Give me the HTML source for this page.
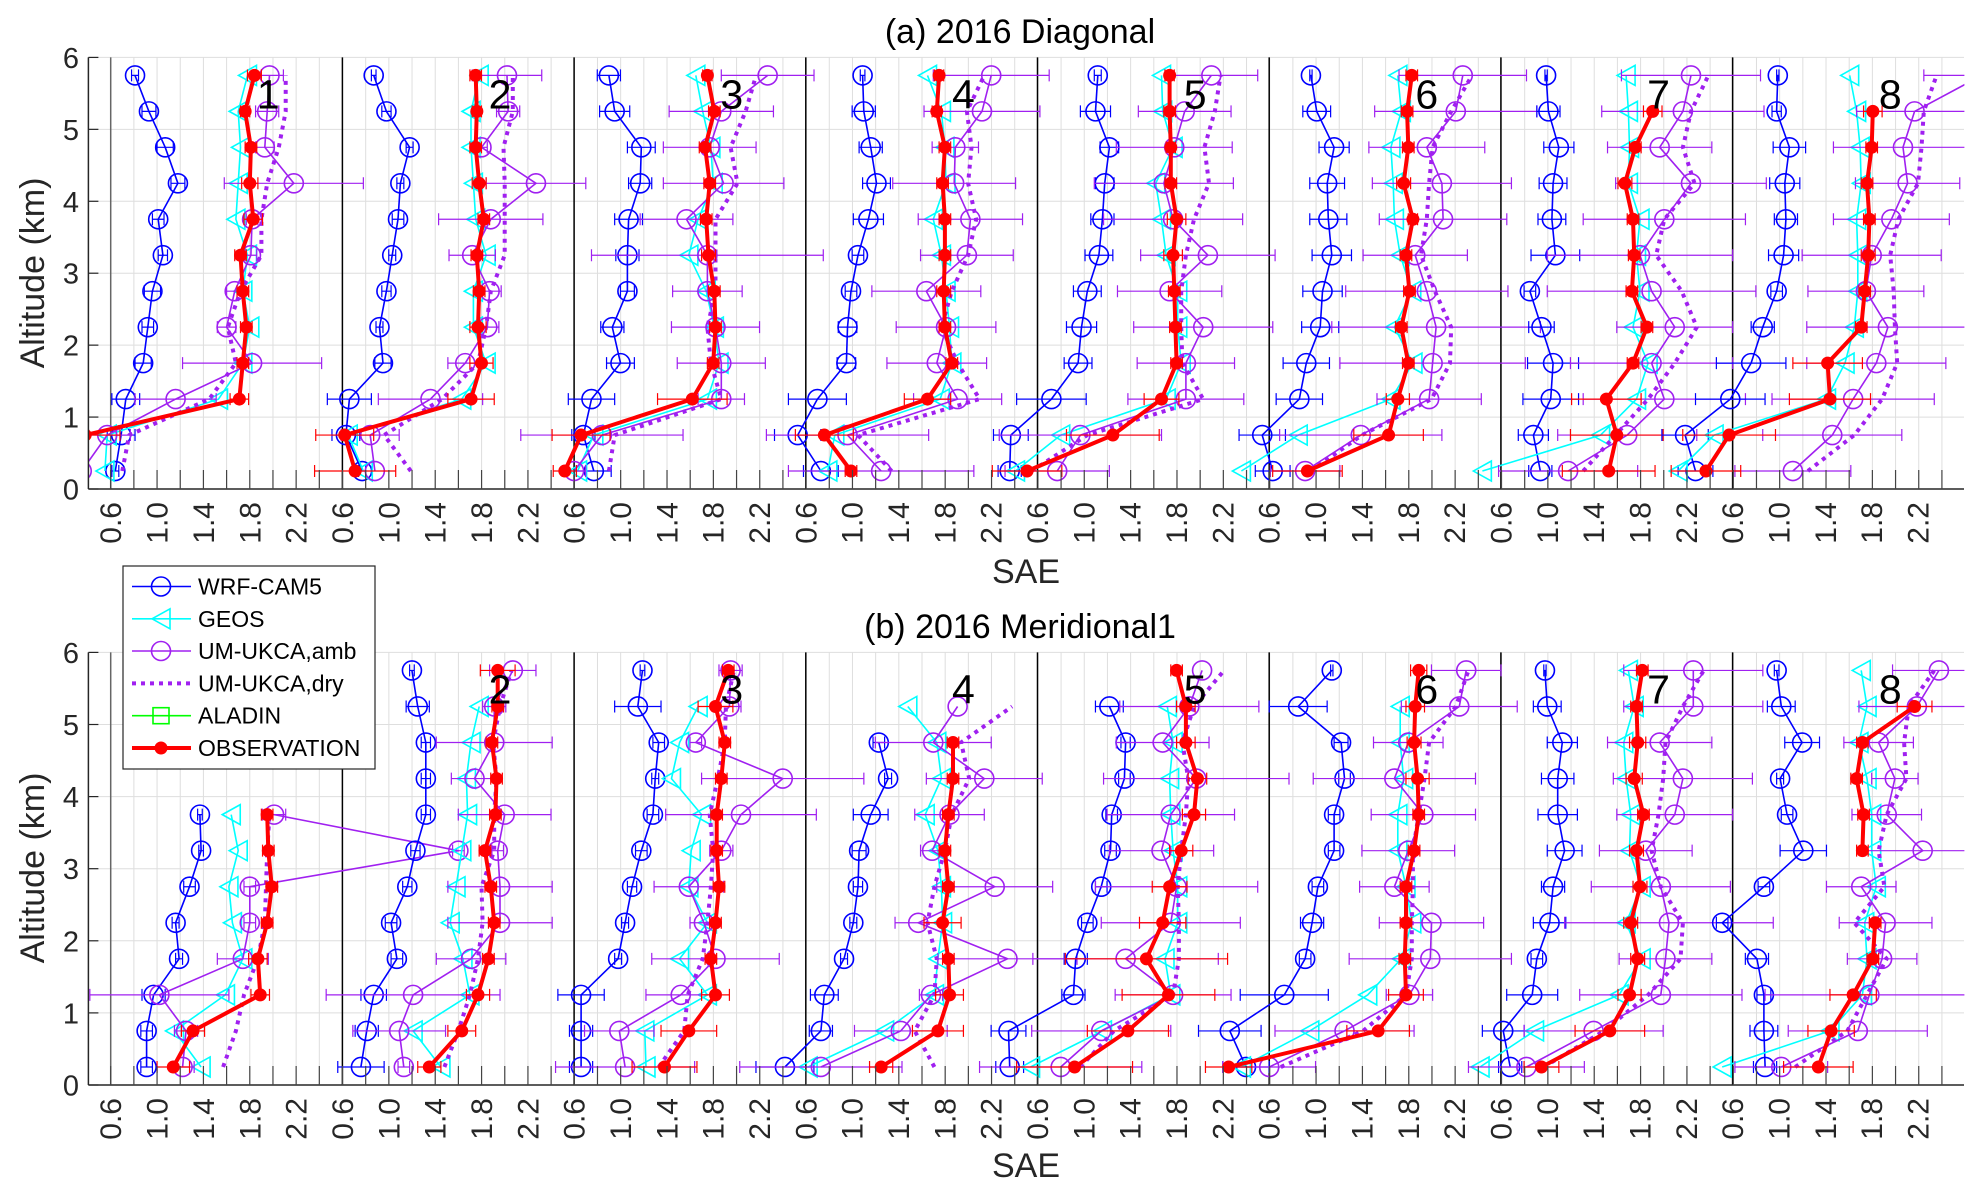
<!DOCTYPE html>
<html><head><meta charset="utf-8"><title>SAE profiles 2016</title>
<style>
html,body{margin:0;padding:0;background:#fff;}
svg{display:block;font-family:"Liberation Sans",Arial,sans-serif;}
</style></head>
<body>
<svg id="chart" width="1981" height="1198" viewBox="0 0 1981 1198" xmlns="http://www.w3.org/2000/svg">
<defs>
<clipPath id="clipTop"><rect x="88.4" y="57" width="1876" height="432"/></clipPath>
<clipPath id="clipBot"><rect x="88.4" y="652" width="1876" height="433"/></clipPath>
</defs>
<g id="gridTop"></g>
<g id="gridBot"></g>
<g id="plotTop" clip-path="url(#clipTop)"></g>
<g id="plotBot" clip-path="url(#clipBot)"></g>
<g id="axesTop"></g>
<g id="axesBot"></g>
<text x="1020" y="43" font-size="34" text-anchor="middle" fill="#000">(a) 2016 Diagonal</text>
<text x="1020" y="638" font-size="34" text-anchor="middle" fill="#000">(b) 2016 Meridional1</text>
<text x="1026" y="583" font-size="34" text-anchor="middle" fill="#262626">SAE</text>
<text x="1026" y="1177" font-size="34" text-anchor="middle" fill="#262626">SAE</text>
<text transform="translate(44,273) rotate(-90)" font-size="34" text-anchor="middle" fill="#262626">Altitude (km)</text>
<text transform="translate(44,868) rotate(-90)" font-size="34" text-anchor="middle" fill="#262626">Altitude (km)</text>
<g id="legend">
<rect x="123" y="566" width="252" height="203" fill="#fff" stroke="#262626" stroke-width="1.2"/>
<g><line x1="132" y1="586.5" x2="191" y2="586.5" stroke="#0000ff" stroke-width="1.6"/><circle cx="161" cy="586.5" r="9.5" fill="none" stroke="#0000ff" stroke-width="1.6"/><text x="198" y="594.5" font-size="23" fill="#000">WRF-CAM5</text></g>
<g><line x1="132" y1="618.8" x2="191" y2="618.8" stroke="#00ffff" stroke-width="1.6"/><polygon points="152,618.8 170,608.8 170,628.8" fill="none" stroke="#00ffff" stroke-width="1.6"/><text x="198" y="626.8" font-size="23" fill="#000">GEOS</text></g>
<g><line x1="132" y1="651" x2="191" y2="651" stroke="#a020f0" stroke-width="1.6"/><circle cx="161" cy="651" r="9.5" fill="none" stroke="#a020f0" stroke-width="1.6"/><text x="198" y="659" font-size="23" fill="#000">UM-UKCA,amb</text></g>
<g><line x1="132" y1="683.4" x2="191" y2="683.4" stroke="#a020f0" stroke-width="4" stroke-dasharray="4 5"/><text x="198" y="691.4" font-size="23" fill="#000">UM-UKCA,dry</text></g>
<g><line x1="132" y1="715.7" x2="191" y2="715.7" stroke="#00ff00" stroke-width="1.6"/><rect x="153" y="707.7" width="16" height="16" fill="none" stroke="#00ff00" stroke-width="1.6"/><text x="198" y="723.7" font-size="23" fill="#000">ALADIN</text></g>
<g><line x1="132" y1="748" x2="191" y2="748" stroke="#ff0000" stroke-width="4"/><circle cx="161" cy="748" r="6.5" fill="#ff0000"/><text x="198" y="756" font-size="23" fill="#000">OBSERVATION</text></g>
</g>
</svg>
<script>
const levels=[0.25,0.75,1.25,1.75,2.25,2.75,3.25,3.75,4.25,4.75,5.25,5.75];
const yTicks=[0,1,2,3,4,5,6];
const xTickLabels=["0.6","1.0","1.4","1.8","2.2"];
const xTickValues=[0.6,1.0,1.4,1.8,2.2];
const panelNames=["1","2","3","4","5","6","7","8"];
const N=null;
// ---- (a) Diagonal ----
const topWRF=[
[0.64,0.69,0.73,0.88,0.92,0.96,1.05,1.01,1.18,1.07,0.93,0.81],
[0.77,0.63,0.66,0.95,0.92,0.98,1.03,1.08,1.10,1.18,0.98,0.87],
[0.77,0.68,0.75,1.00,0.93,1.06,1.06,1.07,1.17,1.18,0.95,0.90],
[0.73,0.53,0.70,0.95,0.96,0.99,1.05,1.14,1.21,1.16,1.10,1.09],
[0.36,0.37,0.72,0.95,0.98,1.03,1.13,1.16,1.18,1.22,1.10,1.12],
[0.63,0.54,0.86,0.92,1.04,1.06,1.14,1.11,1.10,1.16,1.01,0.96],
[0.94,0.88,1.03,1.05,0.95,0.85,1.07,1.04,1.05,1.10,1.01,0.99],
[0.28,0.19,0.58,0.76,0.86,0.98,1.04,1.06,1.05,1.09,0.98,0.99]];
const topGEOS=[
[0.55,0.57,1.53,1.74,1.80,1.74,1.78,1.68,1.70,1.72,1.70,1.78],
[0.78,0.65,1.63,1.84,1.73,1.73,1.84,1.75,1.73,1.71,1.71,1.78],
[0.63,0.77,1.75,1.85,1.81,1.74,1.59,1.67,1.80,1.78,1.71,1.65],
[0.79,0.85,1.76,1.86,1.84,1.81,1.77,1.70,1.81,1.80,1.77,1.65],
[0.41,0.80,1.71,1.84,1.81,1.81,1.71,1.67,1.62,1.77,1.68,1.67],
[0.36,0.85,1.65,1.84,1.68,1.83,1.73,1.68,1.67,1.65,1.74,1.71],
[0.44,1.46,1.77,1.87,1.74,1.80,1.77,1.80,1.70,1.71,1.70,1.68],
[0.13,0.44,1.41,1.57,1.65,1.68,1.68,1.67,1.71,1.70,1.67,1.61]];
const topAMB=[
[0.35,0.57,1.16,1.82,1.60,1.67,1.81,1.82,2.18,1.93,1.95,1.97],
[0.88,0.84,1.36,1.66,1.85,1.87,1.72,1.88,2.27,1.80,2.03,2.02],
[0.60,0.84,1.87,1.87,1.82,1.75,1.75,1.57,1.89,1.77,1.87,2.27],
[1.25,0.96,1.91,1.73,1.81,1.64,1.99,2.02,1.88,1.89,2.12,2.20],
[0.77,0.97,1.88,1.88,2.03,1.74,2.07,1.77,1.69,1.78,1.87,2.10],
[0.91,1.39,1.98,2.01,2.04,1.96,1.86,2.10,2.09,1.96,2.21,2.27],
[1.18,1.69,2.01,1.90,2.10,1.90,1.80,2.01,2.24,1.97,2.17,2.24],
[1.12,1.46,1.64,1.84,1.94,1.75,1.80,1.97,2.11,2.07,2.17,2.75]];
const topDRY=[
[0.70,0.76,1.45,1.68,1.61,1.72,1.90,1.90,1.95,2.05,2.11,2.11],
[1.19,0.96,1.46,1.77,1.84,1.88,2.00,2.00,2.00,1.99,2.07,2.07],
[0.90,0.95,1.87,1.78,1.75,1.82,1.82,1.82,2.01,1.95,2.08,2.17],
[1.34,1.05,2.10,1.91,1.77,1.86,2.00,2.07,2.00,2.03,1.99,2.14],
[0.55,1.03,2.03,1.85,1.84,1.84,1.88,1.95,2.08,2.04,2.13,2.18],
[0.96,1.40,2.00,2.16,2.17,2.03,1.91,1.96,1.98,2.01,2.17,2.35],
[1.31,1.59,1.87,2.10,2.29,2.16,1.94,2.01,2.27,2.17,2.24,2.39],
[1.25,1.65,1.89,2.02,2.00,1.99,1.96,2.03,2.20,2.23,2.25,2.36]];
const topOBS=[
[0.30,0.38,1.71,1.74,1.77,1.74,1.72,1.83,1.80,1.81,1.76,1.84],
[0.71,0.62,1.71,1.80,1.77,1.78,1.76,1.82,1.78,1.75,1.76,1.75],
[0.52,0.66,1.62,1.80,1.82,1.81,1.76,1.74,1.77,1.73,1.81,1.75],
[0.99,0.76,1.65,1.86,1.80,1.79,1.80,1.80,1.78,1.80,1.73,1.75],
[0.51,1.25,1.67,1.80,1.79,1.78,1.77,1.80,1.75,1.75,1.74,1.74],
[0.93,1.63,1.71,1.80,1.74,1.81,1.78,1.84,1.76,1.80,1.79,1.83],
[1.53,1.60,1.51,1.74,1.86,1.73,1.75,1.74,1.67,1.76,1.91,N],
[0.37,0.57,1.44,1.42,1.71,1.74,1.77,1.78,1.76,1.80,1.81,N]];
const topWRFerr=[
[0.03,0.12,0.12,0.07,0.05,0.07,0.04,0.05,0.06,0.07,0.06,0.03],
[0.03,0.12,0.19,0.07,0.03,0.04,0.03,0.05,0.03,0.03,0.04,0.02],
[0.15,0.10,0.2,0.12,0.1,0.06,0.1,0.12,0.1,0.12,0.13,0.1],
[0.15,0.2,0.25,0.08,0.08,0.05,0.05,0.13,0.12,0.1,0.1,0.02],
[0.1,0.15,0.3,0.12,0.13,0.12,0.12,0.1,0.08,0.08,0.13,0.03],
[0.15,0.2,0.2,0.2,0.16,0.17,0.17,0.16,0.15,0.13,0.12,0.01],
[0.1,0.13,0.24,0.22,0.11,0.05,0.21,0.12,0.12,0.13,0.1,0.01],
[0.15,0.2,0.3,0.3,0.1,0.05,0.13,0.1,0.13,0.14,0.04,0.01]];
const topAMBerr=[
[0,0.2,0.35,0.6,0.08,0.07,0.05,0.05,0.6,0.08,0.1,0.12],
[0,0.25,0.45,0.15,0.1,0.1,0.2,0.45,0.43,0.05,0.1,0.3],
[0.1,0.7,0.2,0.38,0.38,0.3,1.0,0.4,0.52,0.4,0.45,0.4],
[0.8,0.7,0.38,0.43,0.43,0.47,0.4,0.45,0.53,0.2,0.5,0.5],
[0.45,0.7,0.5,0.42,0.6,0.45,0.58,0.6,0.6,0.5,0.4,0.4],
[0.3,0.7,0.45,0.8,0.9,0.7,0.45,0.55,0.6,0.5,0.7,0.55],
[0.6,0.6,0.7,0.7,0.5,0.9,0.8,0.7,0.65,0.45,0.7,0.6],
[0.5,0.6,0.7,0.6,0.7,0.5,0.6,0.5,0.45,0.6,0.5,0.5]];
const topOBSerr=[
[0.05,0.3,0.08,0.05,0.05,0.05,0.05,0.08,0.07,0.05,0.04,0.06],
[0.35,0.25,0.2,0.1,0.07,0.05,0.05,0.05,0.06,0.05,0.04,0.05],
[0.1,0.25,0.3,0.05,0.05,0.05,0.06,0.05,0.05,0.05,0.05,0.04],
[0.05,0.25,0.2,0.05,0.05,0.06,0.05,0.05,0.05,0.05,0.04,0.04],
[0.3,0.4,0.15,0.05,0.05,0.05,0.08,0.08,0.05,0.04,0.05,0.04],
[0.3,0.3,0.1,0.05,0.05,0.05,0.05,0.04,0.06,0.05,0.05,0.05],
[0.4,0.4,0.3,0.05,0.05,0.05,0.05,0.05,0.06,0.05,0.08,0],
[0.3,0.4,0.35,0.3,0.05,0.05,0.06,0.05,0.05,0.05,0.08,0]];
// ---- (b) Meridional1 ----
const botWRF=[
[0.91,0.91,0.97,1.19,1.16,1.28,1.38,1.37,N,N,N,N],
[0.76,0.81,0.87,1.07,1.02,1.16,1.23,1.32,1.32,1.32,1.25,1.20],
[0.66,0.66,0.66,0.98,1.04,1.10,1.18,1.28,1.30,1.33,1.15,1.19],
[0.42,0.73,0.76,0.93,1.01,1.05,1.06,1.16,1.31,1.23,N,N],
[0.36,0.35,0.91,0.93,1.03,1.15,1.23,1.24,1.35,1.36,1.22,N],
[0.40,0.26,0.73,0.91,0.97,1.02,1.16,1.16,1.25,1.22,0.85,1.14],
[0.68,0.62,0.87,0.91,1.02,1.05,1.15,1.09,1.09,1.13,1.00,0.98],
[0.88,0.87,0.87,0.81,0.51,0.87,1.21,1.07,1.01,1.20,1.02,0.98]];
const botGEOS=[
[1.38,1.15,1.59,1.74,1.65,1.62,1.70,1.64,N,N,N,N],
[1.45,1.21,1.70,1.64,1.53,1.58,1.63,1.68,1.67,1.71,1.78,N],
[1.22,1.21,1.75,1.51,1.75,1.59,1.61,1.70,1.44,1.51,1.67,N],
[0.62,1.28,1.71,1.74,1.78,1.77,1.74,1.63,1.77,1.73,1.48,N],
[0.54,1.16,1.75,1.70,1.81,1.81,1.77,1.75,1.74,1.77,1.72,N],
[0.36,0.95,1.45,1.74,1.83,1.78,1.71,1.71,1.76,1.73,1.73,N],
[0.42,0.89,1.62,1.81,1.68,1.81,1.71,1.72,1.68,1.66,1.75,1.70],
[0.51,1.44,1.72,1.76,1.74,1.84,1.80,1.80,1.76,1.69,1.76,1.71]];
const botAMB=[
[1.22,1.25,1.02,1.74,1.80,1.80,3.60,2.01,N,N,N,N],
[1.13,1.09,1.21,1.71,1.96,1.96,1.94,2.00,1.74,1.91,1.91,2.07],
[1.04,0.99,1.52,1.82,1.72,1.59,1.87,2.04,2.40,1.65,1.94,1.95],
[0.73,1.42,1.68,2.34,1.57,2.23,1.69,1.84,2.14,1.70,1.91,N],
[0.80,1.15,1.77,1.36,1.75,1.80,1.67,1.75,1.97,1.68,1.91,2.02],
[0.60,1.25,1.81,1.99,2.00,1.68,1.80,1.93,1.68,1.80,2.24,2.30],
[0.82,1.40,1.98,2.02,2.05,1.98,1.85,2.10,2.17,1.97,2.26,2.26],
[1.02,1.68,1.78,1.89,1.92,1.71,2.24,1.93,2.00,1.86,2.19,2.38]];
const botDRY=[
[1.57,1.68,1.75,1.87,1.93,1.94,1.95,1.97,N,N,N,N],
[1.48,1.60,1.70,1.77,1.81,1.80,1.91,1.91,1.93,1.90,1.96,2.06],
[1.33,1.55,1.58,1.71,1.75,1.78,1.80,1.77,1.84,1.90,1.91,1.98],
[1.71,1.54,1.71,1.73,1.65,1.71,1.80,1.86,2.01,1.94,2.38,N],
[0.97,1.26,1.77,1.82,1.82,1.81,1.84,1.88,1.90,1.85,1.95,2.21],
[0.70,1.41,1.78,1.83,1.83,1.84,1.84,1.89,1.94,1.98,2.21,2.32],
[0.97,1.49,1.87,2.15,2.17,1.98,1.90,1.96,2.00,2.02,2.17,2.35],
[1.14,1.59,1.76,1.93,1.65,1.91,1.86,1.93,2.10,2.08,2.12,2.34]];
const botOBS=[
[1.14,1.31,1.89,1.87,1.95,1.99,1.96,1.95,N,N,N,N],
[1.35,1.63,1.77,1.86,1.91,1.88,1.83,1.92,1.93,1.89,1.94,1.94],
[1.38,1.59,1.82,1.78,1.82,1.85,1.83,1.83,1.87,1.90,1.82,1.93],
[1.25,1.74,1.84,1.83,1.78,1.83,1.80,1.83,1.87,1.87,N,N],
[0.92,1.38,1.73,1.54,1.68,1.74,1.84,1.95,1.98,1.88,1.88,1.80],
[0.25,1.54,1.78,1.77,1.78,1.78,1.85,1.89,1.88,1.85,1.86,1.89],
[0.95,1.54,1.71,1.78,1.72,1.80,1.77,1.83,1.75,1.78,1.77,1.82],
[1.34,1.45,1.64,1.81,1.83,N,1.72,1.73,1.67,1.72,2.17,N]];
const botWRFerr=[
[0.05,0.05,0.1,0.03,0.03,0.05,0.02,0.02,0,0,0,0],
[0.2,0.1,0.11,0.05,0.05,0.04,0.04,0.04,0.04,0.04,0.1,0.02],
[0.1,0.1,0.2,0.03,0.03,0.04,0.05,0.05,0.03,0.05,0.2,0.02],
[0.25,0.1,0.12,0.03,0.03,0.04,0.06,0.15,0.03,0.05,0,0],
[0.12,0.15,0.1,0.1,0.05,0.05,0.05,0.05,0.05,0.04,0.12,0],
[0.2,0.27,0.38,0.05,0.1,0.05,0.05,0.05,0.05,0.06,0.25,0.01],
[0.1,0.18,0.22,0.05,0.14,0.1,0.15,0.17,0.14,0.13,0.12,0.01],
[0.1,0.12,0.06,0.1,0.05,0.05,0.2,0.05,0.03,0.15,0.12,0.02]];
const botAMBerr=[
[0.1,0.1,0.6,0.22,0.05,0.05,0.05,0.1,0,0,0,0],
[0.05,0.4,0.75,0.3,0.45,0.45,0.05,0.4,0.2,0.5,0.1,0.2],
[0.6,0.3,0.3,0.55,0.12,0.3,0.1,0.65,0.7,0.05,0.1,0.1],
[0.7,0.4,0.1,0.6,0.2,0.5,0.1,0.3,0.5,0.5,0,0],
[0.7,0.6,0.5,0.8,0.6,0.7,0.45,0.55,0.8,0.4,0.6,0],
[0.4,0.6,0.2,0.7,0.45,0.3,0.4,0.45,0.7,0.3,0.5,0.3],
[0.5,0.6,0.7,0.4,0.9,0.6,0.4,0.5,0.6,0.45,0.6,0.6],
[0.4,0.6,0.9,0.3,0.4,0.3,0.5,0.3,0.2,0.3,0.5,0.4]];
const botOBSerr=[
[0.14,0.1,0.08,0.08,0.05,0.05,0.05,0.05,0,0,0,0],
[0.1,0.12,0.1,0.05,0.05,0.05,0.05,0.05,0.05,0.05,0.05,0.15],
[0.28,0.24,0.12,0.05,0.05,0.05,0.05,0.05,0.05,0.05,0.15,0.05],
[0.1,0.22,0.12,0.05,0.16,0.05,0.05,0.05,0.05,0.05,0,0],
[0.5,0.35,0.4,0.7,0.2,0.15,0.1,0.1,0.08,0.08,0.08,0.05],
[0.2,0.27,0.15,0.05,0.05,0.05,0.05,0.05,0.1,0.06,0.08,0.07],
[0.15,0.3,0.1,0.06,0.06,0.06,0.06,0.05,0.07,0.07,0.05,0.05],
[0.3,0.2,0.2,0.05,0.05,0,0.05,0.05,0.05,0.05,0.15,0]];

const NS="http://www.w3.org/2000/svg";
const X0=110.7, PW=231.7, SX=115.9, XL=88.4, XR=1964;
function xPos(p,v){return X0+p*PW+(v-0.6)*SX;}
const topAxis={y0:489,k:71.93,clip:"plotTop",grid:"gridTop",axes:"axesTop",tag:"top"};
const botAxis={y0:1085,k:72.1,clip:"plotBot",grid:"gridBot",axes:"axesBot",tag:"bottom"};
function yPos(ax,h){return ax.y0-h*ax.k;}
function mk(tag,attrs,parent){const e=document.createElementNS(NS,tag);for(const k in attrs)e.setAttribute(k,attrs[k]);parent.appendChild(e);return e;}

function drawFrame(ax,showNumbers,bottomSkipFirst){
  const g=document.getElementById(ax.grid), a=document.getElementById(ax.axes);
  // vertical minor grid every 0.2
  for(let i=0;;i++){const x=X0+i*0.2*SX-0.2*SX; if(x>XR+0.5)break; if(x<XL+1)continue;
    const l=mk('line',{x1:x,y1:yPos(ax,6),x2:x,y2:ax.y0,stroke:'#dedede','stroke-width':1},g);
    
    }
  yTicks.forEach(h=>{const y=yPos(ax,h);
    const l=mk('line',{x1:XL,y1:y,x2:XR,y2:y,stroke:'#dedede','stroke-width':1},g);
    
    });
  // panel separators
  for(let p=0;p<8;p++){const x=xPos(p,0.6);
    const l=mk('line',{x1:x,y1:yPos(ax,6),x2:x,y2:ax.y0,stroke:p===0?'#666':'#000','stroke-width':1.5},g);
    
    }
  // axes
  const yl=mk('line',{x1:XL,y1:yPos(ax,6),x2:XL,y2:ax.y0,stroke:'#262626','stroke-width':1.5},a);
  
  
  const xl=mk('line',{x1:XL,y1:ax.y0,x2:XR,y2:ax.y0,stroke:'#262626','stroke-width':1.5},a);
  
  
  yTicks.forEach(h=>{const y=yPos(ax,h);
    mk('line',{x1:XL,y1:y,x2:XL+10,y2:y,stroke:'#262626','stroke-width':1.2},a);
    const t=mk('text',{x:79,y:y+10.5,'font-size':29,'text-anchor':'end',fill:'#262626'},a);
    t.textContent=String(h);
    
    });
  for(let i=0;;i++){const x=X0+i*0.2*SX; if(x>XR+0.5)break;
    mk('line',{x1:x,y1:ax.y0,x2:x,y2:ax.y0-19,stroke:'#444','stroke-width':1.2},a);}
  for(let p=0;p<8;p++){xTickValues.forEach((v,j)=>{const x=xPos(p,v);
    const t=mk('text',{transform:`translate(${x+10.5},${ax.y0+13}) rotate(-90)`,'font-size':30,'text-anchor':'end',fill:'#262626'},a);
    t.textContent=xTickLabels[j];
    
    });}
}

function drawSeries(ax,p,vals,errs,style,name){
  const g=document.getElementById(ax.clip);
  const grp=mk('g',{},g);
  
  
  // error bars
  if(errs){vals.forEach((v,i)=>{if(v===null||!errs[i])return;const y=yPos(ax,levels[i]);
    const x1=xPos(p,v-errs[i]),x2=xPos(p,v+errs[i]);
    const eb=mk('path',{d:`M${x1},${y}H${x2}M${x1},${y-6}V${y+6}M${x2},${y-6}V${y+6}`,stroke:style.color,'stroke-width':1.2,fill:'none'},grp);
    
    });}
  // line (break at nulls)
  let d='',pen=false;
  vals.forEach((v,i)=>{if(v===null){pen=false;return;}const x=xPos(p,v),y=yPos(ax,levels[i]);d+=(pen?'L':'M')+x.toFixed(1)+','+y.toFixed(1);pen=true;});
  const ln=mk('path',{d:d,fill:'none',stroke:style.color,'stroke-width':style.width,'stroke-linejoin':'round'},grp);
  if(style.dash){ln.setAttribute('stroke-dasharray',style.dash);}
  
  
  // markers
  vals.forEach((v,i)=>{if(v===null)return;const x=xPos(p,v),y=yPos(ax,levels[i]);let m=null;
    if(style.marker==='circle')m=mk('circle',{cx:x,cy:y,r:9.5,fill:'none',stroke:style.color,'stroke-width':1.6},grp);
    else if(style.marker==='tri')m=mk('polygon',{points:`${x-9},${y} ${x+9},${y-10} ${x+9},${y+10}`,fill:'none',stroke:style.color,'stroke-width':1.6},grp);
    else if(style.marker==='dot')m=mk('circle',{cx:x,cy:y,r:6.5,fill:style.color},grp);
    if(m){
      }});
}

const sWRF={color:'#0000ff',width:1.6,marker:'circle'};
const sGEOS={color:'#00ffff',width:1.6,marker:'tri'};
const sAMB={color:'#a020f0',width:1.6,marker:'circle'};
const sDRY={color:'#a020f0',width:4,dash:'4 5',marker:null};
const sOBS={color:'#ff0000',width:4,marker:'dot'};

function drawAll(ax,W,G,A,D,O,We,Ae,Oe,numbersFrom){
  drawFrame(ax);
  for(let p=0;p<8;p++){
    drawSeries(ax,p,W[p],We[p],sWRF,'wrf-cam5');
    drawSeries(ax,p,G[p],null,sGEOS,'geos');
    drawSeries(ax,p,A[p],Ae[p],sAMB,'um-ukca-amb');
    drawSeries(ax,p,D[p],null,sDRY,'um-ukca-dry');
    drawSeries(ax,p,O[p],Oe[p],sOBS,'observation');
  }
  const a=document.getElementById(ax.axes);
  for(let p=numbersFrom;p<8;p++){
    const t=mk('text',{x:xPos(p,1.96),y:yPos(ax,5.5)+15,'font-size':41,'text-anchor':'middle',fill:'#000'},a);
    t.textContent=panelNames[p];
    
    
  }
}
drawAll(topAxis,topWRF,topGEOS,topAMB,topDRY,topOBS,topWRFerr,topAMBerr,topOBSerr,0);
drawAll(botAxis,botWRF,botGEOS,botAMB,botDRY,botOBS,botWRFerr,botAMBerr,botOBSerr,1);
// keep legend on top
document.getElementById('chart').appendChild(document.getElementById('legend'));
</script>
</body></html>
